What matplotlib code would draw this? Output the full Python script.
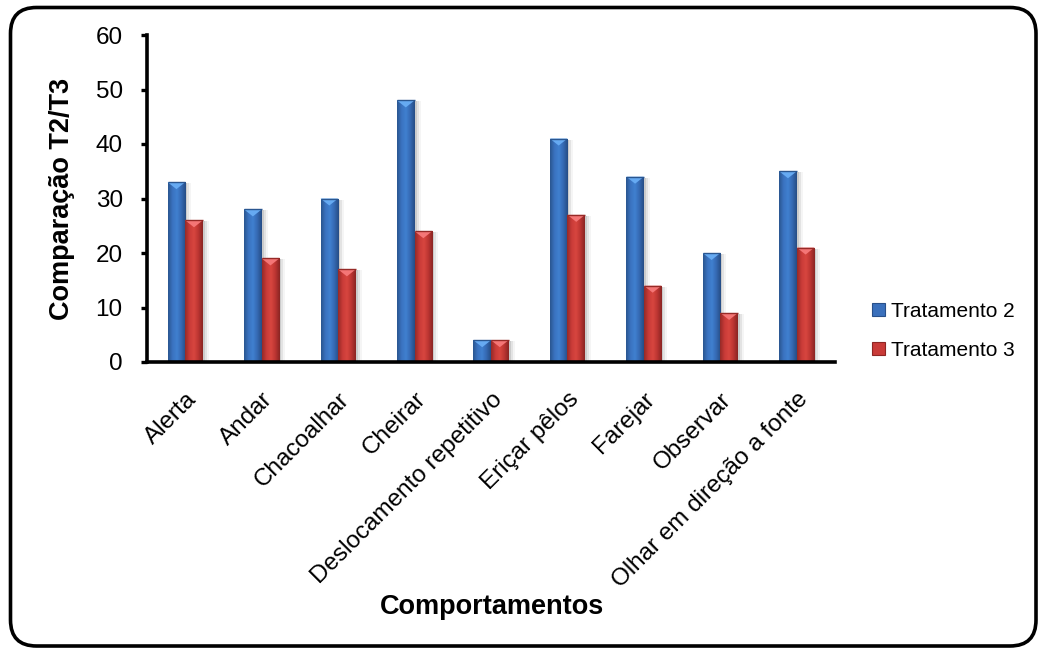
import numpy as np
import matplotlib
matplotlib.use("Agg")
import matplotlib.pyplot as plt
from matplotlib.patches import FancyBboxPatch, Patch, Polygon, Rectangle
from matplotlib.transforms import IdentityTransform, ScaledTranslation
from matplotlib.colors import LinearSegmentedColormap

# ---- data ----
categorias = ["Alerta", "Andar", "Chacoalhar", "Cheirar", "Deslocamento repetitivo",
              "Eriçar pêlos", "Farejar", "Observar", "Olhar em direção a fonte"]
tratamento_2 = [33, 28, 30, 48, 4, 41, 34, 20, 35]
tratamento_3 = [26, 19, 17, 24, 4, 27, 14, 9, 21]
series_labels = ["Tratamento 2", "Tratamento 3"]
y_ticks = [0, 10, 20, 30, 40, 50, 60]

plt.rcParams["font.family"] = ["Liberation Sans", "DejaVu Sans"]

W, H, DPI = 1040, 649, 100
fig = plt.figure(figsize=(W / DPI, H / DPI), dpi=DPI)
ax = fig.add_axes([147 / W, 1 - 362 / H, (835 - 147) / W, (362 - 35) / H])

x = np.arange(len(categorias))
bw = 0.23

blue_stops = ["#2a5690", "#3a73c0", "#4080d0", "#3569b2", "#264d85"]
red_stops = ["#962a27", "#c93b38", "#d8463f", "#bb3532", "#8a2523"]
blue_tip = "#66aaf2"
red_tip = "#f47676"

bars2 = ax.bar(x - bw / 2, tratamento_2, bw, color="#3a70bc", zorder=2, linewidth=0)
bars3 = ax.bar(x + bw / 2, tratamento_3, bw, color="#c93b38", zorder=2, linewidth=0)

ax.set_xlim(-0.5, len(categorias) - 0.5)
ax.set_ylim(0, 60)

# pixels per data unit, used to size the bevel tip
px_per_unit = ax.bbox.height / 60.0


def bevel(bars, stops, tip):
    cmap = LinearSegmentedColormap.from_list("bevel", stops)
    grad = np.linspace(0, 1, 64)[None, :]
    for b in bars:
        x0, y0 = b.get_x(), b.get_y()
        w, h = b.get_width(), b.get_height()
        # soft drop shadow to the right
        for i, a in enumerate([0.10, 0.07, 0.04]):
            sh = Rectangle((x0, y0), w, h, facecolor="black", alpha=a, linewidth=0,
                           zorder=1.5,
                           transform=ax.transData + ScaledTranslation((2 + 2 * i) / DPI, -1 / DPI, fig.dpi_scale_trans))
            ax.add_patch(sh)
        im = ax.imshow(grad, cmap=cmap, extent=(x0, x0 + w, y0, y0 + h), aspect="auto",
                       interpolation="bilinear", zorder=2.1)
        im.set_clip_path(b)
        d = 7.0 / px_per_unit
        tri = Polygon([(x0, y0 + h), (x0 + w, y0 + h), (x0 + w / 2, y0 + h - d)],
                      closed=True, facecolor=tip, edgecolor="none", zorder=2.2)
        ax.add_patch(tri)
        ax.plot([x0, x0 + w], [y0 + h, y0 + h], color=stops[0], lw=1.0, zorder=2.3,
                solid_capstyle="butt")


bevel(bars2, blue_stops, blue_tip)
bevel(bars3, red_stops, red_tip)

ax.set_xlim(-0.5, len(categorias) - 0.5)
ax.set_ylim(0, 60)
ax.set_yticks(y_ticks)

for s in ["top", "right"]:
    ax.spines[s].set_visible(False)
for s in ["left", "bottom"]:
    ax.spines[s].set_linewidth(2.6)
    ax.spines[s].set_color("black")
    ax.spines[s].set_zorder(5)
ax.spines["bottom"].set_capstyle("projecting")

ax.tick_params(axis="y", direction="out", length=4.5, width=2.4, pad=13, labelsize=17.5, colors="black")
ax.tick_params(axis="x", length=0, pad=19)
ax.set_xticks(x)
ax.set_xticklabels(categorias, rotation=45, ha="right", va="top", rotation_mode="anchor", fontsize=17.5)

fig.text(62 / W, 1 - 199 / H, "Comparação T2/T3", rotation=90, ha="center", va="center",
         fontsize=19.5, fontweight="bold")
fig.text(492 / W, 1 - 607 / H, "Comportamentos", ha="center", va="center",
         fontsize=19.5, fontweight="bold")

handles = [Patch(facecolor="#3a70bc", edgecolor="#28508a", linewidth=0.8),
           Patch(facecolor="#c93b38", edgecolor="#8e2624", linewidth=0.8)]
fig.legend(handles, series_labels, loc="center left", bbox_to_anchor=(872 / W, 1 - 331 / H),
           frameon=False, fontsize=15, handlelength=0.6, handleheight=0.6,
           handletextpad=0.3, labelspacing=0.95, borderpad=0, borderaxespad=0)

# rounded frame around the whole chart
frame = FancyBboxPatch((10.5, H - 646), 1025.5, 638.5,
                       boxstyle="round,pad=0,rounding_size=26",
                       transform=IdentityTransform(), facecolor="none",
                       edgecolor="black", linewidth=2.6)
fig.patches.append(frame)

fig.savefig("out.png", dpi=DPI)
